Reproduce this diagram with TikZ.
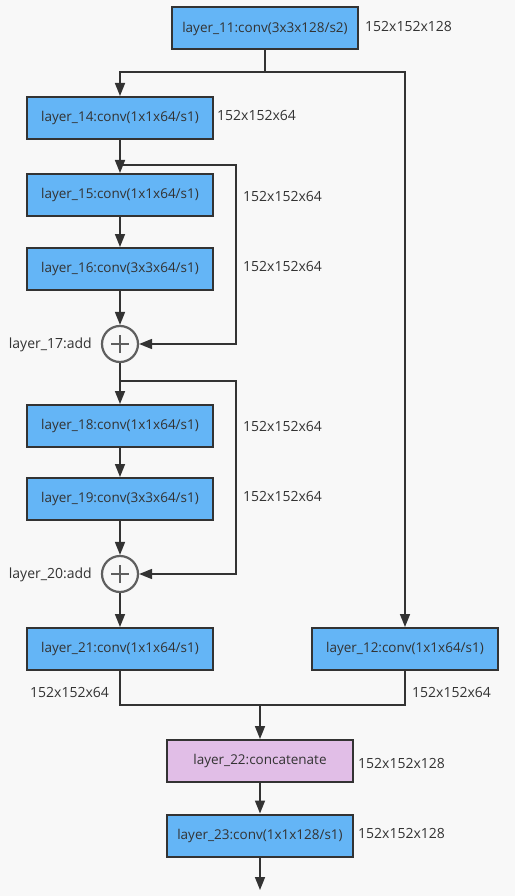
\documentclass[tikz,border=0pt]{standalone}
\usepackage{fontspec}
\setmainfont{Open Sans}
\usetikzlibrary{arrows.meta}
\definecolor{bg}{HTML}{F8F8F8}
\definecolor{ink}{HTML}{333333}
\definecolor{convblue}{HTML}{64B5F6}
\definecolor{catpink}{HTML}{E1BEE7}
\definecolor{addgray}{HTML}{5F5F5F}
\tikzset{
  layerbox/.style={draw=ink,line width=2pt,fill=convblue,minimum width=186pt,minimum height=42pt,inner sep=0pt,text=ink,font=\fontsize{13.5}{15}\selectfont},
  catbox/.style={layerbox,fill=catpink},
  addop/.style={circle,draw=addgray,line width=2.2pt,fill=bg,minimum size=36pt,inner sep=0pt},
  dimlabel/.style={text=ink,font=\fontsize{14}{16}\selectfont,inner sep=0pt},
  flow/.style={draw=ink,line width=1.6pt,-{Triangle[width=10pt,length=13pt]}},
  wire/.style={draw=ink,line width=1.6pt}
}
\begin{document}
\begin{tikzpicture}[x=1pt,y=-1pt]
    \fill[bg] (0,0) rectangle (515,896);
    \useasboundingbox (0,0) rectangle (515,896);
    \node[layerbox] (l11) at (265,28.5) {layer\_11:conv(3x3x128/s2)};
    \node[layerbox] (l14) at (120,118) {layer\_14:conv(1x1x64/s1)};
    \node[layerbox] (l15) at (120,195) {layer\_15:conv(1x1x64/s1)};
    \node[layerbox] (l16) at (120,269) {layer\_16:conv(3x3x64/s1)};
    \node[addop] (a17) at (120,344) {};
    \node[layerbox] (l18) at (120,426) {layer\_18:conv(1x1x64/s1)};
    \node[layerbox] (l19) at (120,499) {layer\_19:conv(3x3x64/s1)};
    \node[addop] (a20) at (120,574) {};
    \node[layerbox] (l21) at (120,649) {layer\_21:conv(1x1x64/s1)};
    \node[layerbox] (l12) at (405,649) {layer\_12:conv(1x1x64/s1)};
    \node[catbox] (l22) at (260,761) {layer\_22:concatenate};
    \node[layerbox] (l23) at (260,835.5) {layer\_23:conv(1x1x128/s1)};
    % plus signs
    \foreach \a in {a17,a20} {
      \draw[addgray,line width=2.4pt] ([xshift=-9pt]\a.center) -- ([xshift=9pt]\a.center);
      \draw[addgray,line width=2.4pt] ([yshift=-9pt]\a.center) -- ([yshift=9pt]\a.center);
    }
    % output shapes
    \node[dimlabel,anchor=west] (s11) at (365,27) {152x152x128};
    \node[dimlabel,anchor=west] (s14) at (217,116) {152x152x64};
    \node[dimlabel,anchor=west] (s15) at (243,196) {152x152x64};
    \node[dimlabel,anchor=west] (s16) at (243,266) {152x152x64};
    \node[dimlabel,anchor=east] (n17) at (92,345) {layer\_17:add};
    \node[dimlabel,anchor=west] (s18) at (243,426) {152x152x64};
    \node[dimlabel,anchor=west] (s19) at (243,496) {152x152x64};
    \node[dimlabel,anchor=east] (n20) at (92,575) {layer\_20:add};
    \node[dimlabel,anchor=west] (s21) at (30,692) {152x152x64};
    \node[dimlabel,anchor=west] (s12) at (412,692) {152x152x64};
    \node[dimlabel,anchor=west] (s22) at (358,763) {152x152x128};
    \node[dimlabel,anchor=west] (s23) at (358,833) {152x152x128};
    % branch points
    \coordinate (split) at (265,72);
    \coordinate (skip1) at (120,165);
    \coordinate (skip2) at (120,381);
    \coordinate (merge) at (260,705);
    \coordinate (out) at (260,890);
    \draw[wire] (l11) -- (split);
    \draw[flow] (split) -| (l14);
    \draw[flow] (split) -| (l12);
    \draw[flow] (l14) -- (l15);
    \draw[flow] (skip1) -- (236,165) |- (a17);
    \draw[flow] (l15) -- (l16);
    \draw[flow] (l16) -- (a17);
    \draw[flow] (a17) -- (l18);
    \draw[flow] (skip2) -- (236,381) |- (a20);
    \draw[flow] (l18) -- (l19);
    \draw[flow] (l19) -- (a20);
    \draw[flow] (a20) -- (l21);
    \draw[wire] (l21) |- (merge);
    \draw[wire] (l12) |- (merge);
    \draw[flow] (merge) -- (l22);
    \draw[flow] (l22) -- (l23);
    \draw[flow] (l23) -- (out);
  \end{tikzpicture}
\end{document}
